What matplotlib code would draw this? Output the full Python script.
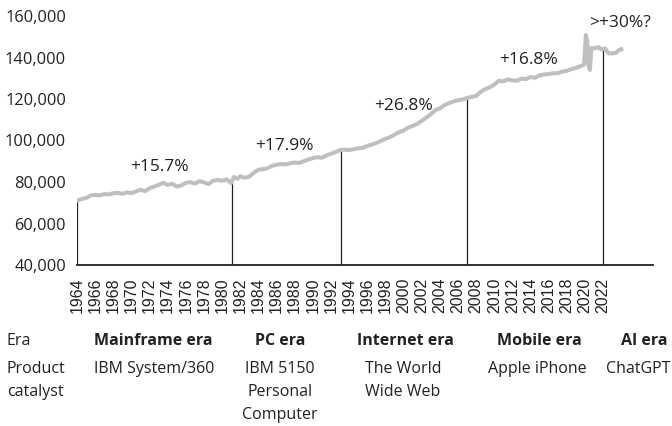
import matplotlib.pyplot as plt
import numpy as np

# employment (thousands)
years = [1964.0, 1964.5, 1965.0, 1965.5, 1966.0, 1966.5, 1967.0, 1967.5, 1968.0, 1968.5,
         1969.0, 1969.5, 1970.0, 1970.5, 1971.0, 1971.5, 1972.0, 1972.5, 1973.0, 1973.5,
         1974.0, 1974.5, 1975.0, 1975.5, 1976.0, 1976.5, 1977.0, 1977.5, 1978.0, 1978.5,
         1979.0, 1979.5, 1980.0, 1980.5, 1981.0, 1981.3, 1981.7, 1982.0, 1982.5, 1983.0,
         1983.5, 1984.0, 1984.5, 1985.0, 1985.5, 1986.0, 1986.5, 1987.0, 1987.5, 1988.0,
         1988.5, 1989.0, 1989.5, 1990.0, 1990.5, 1991.0, 1991.5, 1992.0, 1992.5, 1993.0,
         1993.5, 1994.0, 1994.5, 1995.0, 1995.5, 1996.0, 1996.5, 1997.0, 1997.5, 1998.0,
         1998.5, 1999.0, 1999.5, 2000.0, 2000.5, 2001.0, 2001.5, 2002.0, 2002.5, 2003.0,
         2003.5, 2004.0, 2004.5, 2005.0, 2005.5, 2006.0, 2006.5, 2007.0, 2007.5, 2008.0,
         2008.5, 2009.0, 2009.5, 2010.0, 2010.5, 2011.0, 2011.5, 2012.0, 2012.5, 2013.0,
         2013.5, 2014.0, 2014.5, 2015.0, 2015.5, 2016.0, 2016.5, 2017.0, 2017.5, 2018.0,
         2018.5, 2019.0, 2019.5, 2019.9, 2020.1, 2020.25, 2020.4, 2020.55, 2020.7, 2021.0,
         2021.5, 2021.8, 2022.2, 2022.6, 2023.0, 2023.4, 2023.7, 2024.0]
employment = [71.0, 71.8, 72.3, 73.5, 73.8, 73.5, 74.2, 74.0, 74.6, 74.8,
              74.3, 75.0, 74.6, 75.4, 76.3, 75.6, 77.0, 77.8, 78.6, 79.6,
              78.6, 79.2, 77.8, 78.4, 79.6, 79.9, 79.2, 80.4, 79.8, 79.0,
              80.6, 81.0, 80.6, 81.3, 79.5, 82.4, 81.5, 82.8, 82.0, 82.6,
              84.5, 85.9, 86.2, 86.6, 87.8, 88.3, 88.6, 88.5, 89.0, 89.4,
              89.2, 90.0, 90.8, 91.5, 92.0, 91.7, 92.8, 93.6, 94.4, 95.4,
              95.6, 95.4, 95.8, 96.2, 96.5, 97.4, 98.0, 98.8, 99.8, 100.8,
              101.6, 102.8, 104.0, 104.8, 106.2, 107.0, 108.0, 109.5, 111.0, 112.6,
              114.6, 115.5, 117.0, 118.0, 118.8, 119.4, 119.8, 120.5, 121.0, 121.5,
              123.4, 124.8, 125.6, 126.9, 128.8, 128.5, 129.4, 129.0, 128.8, 129.8,
              129.6, 130.6, 130.2, 131.4, 131.8, 132.0, 132.4, 132.4, 133.2, 133.6,
              134.4, 135.0, 135.8, 136.6, 150.8, 148.0, 136.0, 134.0, 144.5, 144.4,
              145.0, 143.8, 144.4, 142.0, 142.0, 142.2, 143.4, 144.0]
employment = [v * 1000 for v in employment]

era_starts = [1964.0, 1981.05, 1993.1, 2006.95, 2021.95]
growth_labels = ["+15.7%", "+17.9%", "+26.8%", "+16.8%", ">+30%?"]
label_x = [1973.1, 1986.9, 2000.0, 2013.8, 2023.9]
label_y = [87200, 97300, 116600, 138800, 156600]

eras = ["Mainframe era", "PC era", "Internet era", "Mobile era", "AI era"]
catalysts = ["IBM System/360", "IBM 5150\nPersonal\nComputer", "The World\nWide Web",
             "Apple iPhone", "ChatGPT"]

font = "Open Sans"

fig = plt.figure(figsize=(6.72, 4.26), dpi=100)
ax = fig.add_axes([77 / 672, 1 - 265 / 426, 576 / 672, (265 - 16) / 426])

ax.plot(years, employment, color="#bfbfbf", lw=2.9, solid_joinstyle="round", zorder=3)

tops = np.interp(era_starts, years, employment)
ax.vlines(era_starts, 40000, tops, color="#222222", lw=0.9, zorder=2)

for x, y, s in zip(label_x, label_y, growth_labels):
    ax.text(x, y, s, ha="center", va="center", fontsize=12.5, family=font, color="#222222")

ax.set_xlim(1964, 2027.5)
ax.set_ylim(40000, 160000)
ax.set_yticks(range(40000, 160001, 20000))
ax.set_yticklabels([f"{v:,}" for v in range(40000, 160001, 20000)], family=font, fontsize=11.8)
ax.set_xticks(range(1964, 2023, 2))
ax.set_xticklabels([str(y) for y in range(1964, 2023, 2)], rotation=90,
                   family="Liberation Sans", fontsize=11.5)
ax.tick_params(axis="y", length=0, pad=8, colors="#222222")
ax.tick_params(axis="x", length=0, pad=9, colors="#222222")
for side in ["left", "right", "top"]:
    ax.spines[side].set_visible(False)
ax.spines["bottom"].set_linewidth(1.3)
ax.spines["bottom"].set_color("#222222")

# table of eras below the chart
col_x = [153, 280, 405, 539, 644]
cat_x = [154, 280, 403, 537, 638]
fig.text(7 / 672, 1 - 341 / 426, "Era", ha="left", va="center", family=font,
         fontsize=11.5, color="#222222")
fig.text(7 / 672, 1 - 361 / 426, "Product\ncatalyst", ha="left", va="top", family=font,
         fontsize=11.5, color="#222222", linespacing=1.6)
for x, e in zip(col_x, eras):
    fig.text(x / 672, 1 - 341 / 426, e, ha="center", va="center", family=font,
             fontsize=11.5, fontweight="bold", color="#222222")
for x, c in zip(cat_x, catalysts):
    fig.text(x / 672, 1 - 361 / 426, c, ha="center", va="top", family=font,
             fontsize=11.5, color="#222222", linespacing=1.6, multialignment="center")

fig.savefig("out.png", dpi=100)
